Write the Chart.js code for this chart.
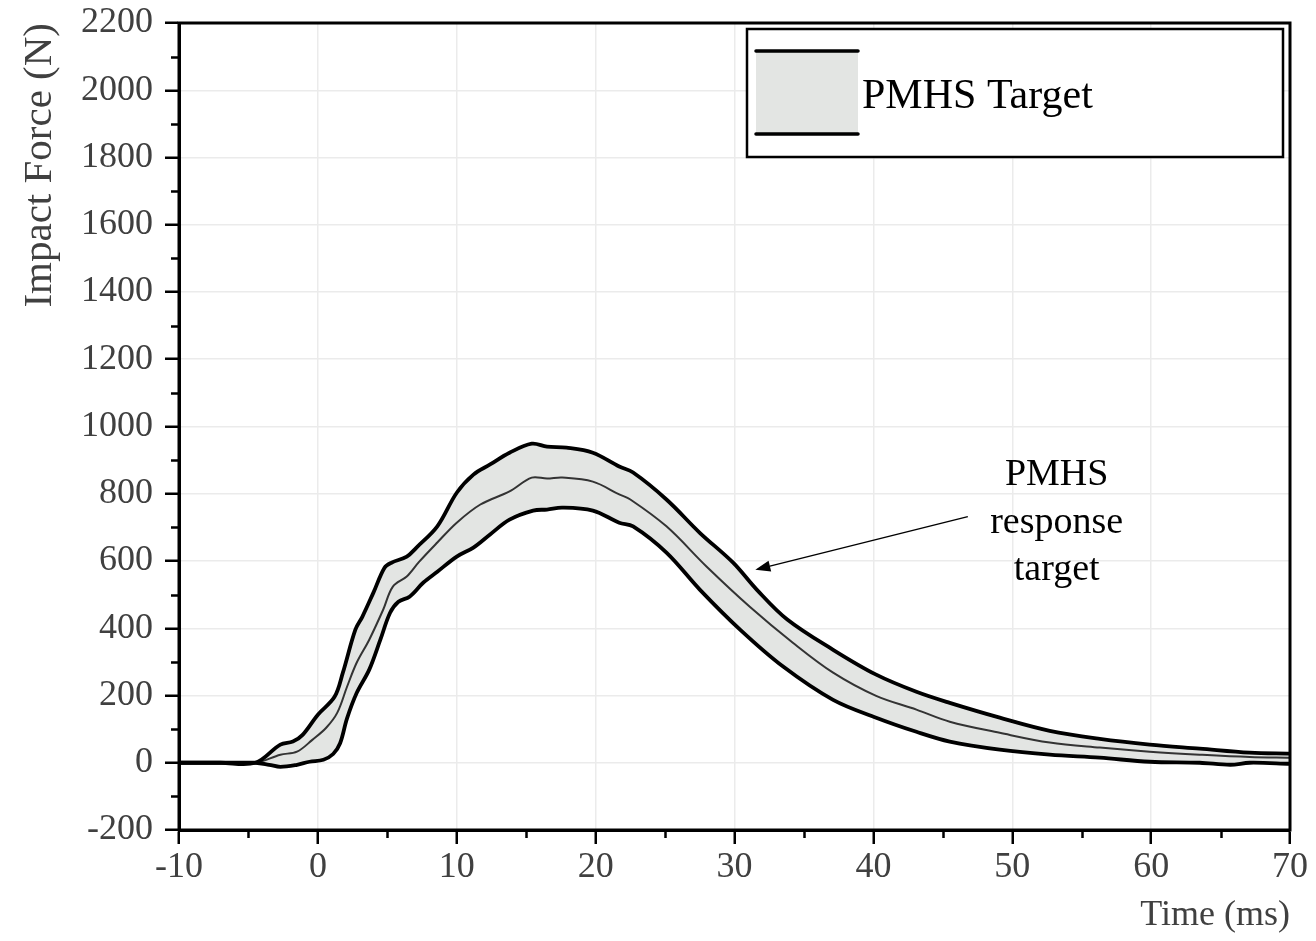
<!DOCTYPE html>
<html>
<head>
<meta charset="utf-8">
<script src="https://cdn.jsdelivr.net/npm/chart.js@4/dist/chart.umd.min.js"></script>
<style>
  html, body { margin: 0; padding: 0; background: #fff; }
  #wrap { width: 1316px; height: 941px; position: relative; }
</style>
</head>
<body>
<div id="wrap"><canvas id="c"></canvas></div>
<script>
// ---- data (time in ms, force in N) ----
const upperT = [-10, -7, -4.5, -2.7, -1.8, -1.1, 0, 1.2, 1.8, 2.7, 3.2, 4.0, 4.8, 5.3, 6.4, 7.1, 8.6, 10.0, 11.2, 12.4, 13.8, 15.4, 16.5, 17.9, 19.8, 21.7, 22.7, 25.1, 27.5, 29.9, 31.6, 33.8, 37.1, 40.2, 43.1, 45.5, 49.1, 52.7, 56.3, 59.9, 63.5, 67.1, 70];
const upperF = [0, 0, 0, 54, 63, 83, 143, 196, 268, 396, 434, 506, 580, 595, 613, 640, 703, 803, 857, 887, 922, 949, 940, 937, 922, 881, 863, 783, 684, 595, 515, 426, 336, 262, 211, 178, 134, 95, 71, 54, 42, 30, 27];

const middleT = [-10, -7, -4.5, -2.7, -1.5, -0.4, 0.6, 1.4, 2.1, 2.8, 3.7, 4.7, 5.4, 6.4, 7.3, 8.6, 10.0, 11.7, 13.8, 15.4, 16.5, 17.6, 19.8, 21.7, 22.5, 25.1, 28.0, 31.1, 34.2, 37.1, 40.2, 43.1, 45.5, 49.1, 52.7, 56.3, 59.9, 63.5, 67.1, 70];
const middleF = [0, 0, 0, 24, 33, 68, 104, 149, 226, 298, 366, 455, 524, 554, 598, 655, 714, 768, 807, 848, 845, 848, 836, 798, 783, 703, 583, 464, 357, 268, 199, 158, 122, 89, 60, 45, 33, 24, 17, 15];

const lowerT = [-10, -7, -4.5, -3.5, -2.7, -1.5, -0.6, 0.4, 1.1, 1.6, 2.1, 2.8, 3.7, 4.5, 5.2, 5.8, 6.6, 7.6, 8.6, 10.0, 11.2, 12.4, 13.8, 15.5, 16.5, 17.6, 19.8, 21.7, 22.7, 25.1, 27.5, 30.4, 33.5, 37.1, 40.2, 43.1, 45.5, 49.1, 52.7, 56.3, 59.9, 63.5, 65.7, 67.1, 70];
const lowerF = [0, 0, 0, -6, -12, -6, 3, 9, 26, 58, 132, 208, 277, 366, 446, 479, 494, 536, 568, 613, 640, 679, 723, 750, 753, 759, 750, 714, 703, 625, 515, 396, 286, 187, 134, 92, 63, 39, 24, 15, 3, 0, -6, 0, -3];

const xTicks = [-10, 0, 10, 20, 30, 40, 50, 60, 70];
const yTicks = [-200, 0, 200, 400, 600, 800, 1000, 1200, 1400, 1600, 1800, 2000, 2200];
const xMinor = [-5, 5, 15, 25, 35, 45, 55, 65];
const yMinor = [-100, 100, 300, 500, 700, 900, 1100, 1300, 1500, 1700, 1900, 2100];

const legendLabel = 'PMHS Target';
const annotationLines = ['PMHS', 'response', 'target'];
const annotationTextPos = { t: 53.2, f: [855, 712, 572] };
const arrowFrom = { t: 46.8, f: 732 };
const arrowTo = { t: 31.5, f: 574 };

// ---- helpers ----
const zip = (xs, ys) => xs.map((x, i) => ({ x: x, y: ys[i] }));
const SERIF = '"Liberation Serif", "Times New Roman", serif';
const BAND = '#e3e5e3';
const TICK_COLOR = '#404040';

const decor = {
  id: 'decor',
  afterDraw(chart) {
    const { ctx, chartArea: a, scales: { x, y } } = chart;
    ctx.save();
    // frame (top & right)
    ctx.strokeStyle = '#000';
    ctx.lineWidth = 3;
    ctx.strokeRect(a.left, a.top, a.right - a.left, a.bottom - a.top);
    // minor ticks
    ctx.lineWidth = 2.5;
    ctx.beginPath();
    yMinor.forEach(v => {
      const py = Math.round(y.getPixelForValue(v)) + 0.5;
      ctx.moveTo(a.left - 8, py); ctx.lineTo(a.left, py);
    });
    xMinor.forEach(v => {
      const px = Math.round(x.getPixelForValue(v)) + 0.5;
      ctx.moveTo(px, a.bottom); ctx.lineTo(px, a.bottom + 8);
    });
    ctx.stroke();

    // legend box
    const lx = a.left + 568, ly = a.top + 6, lw = 536, lh = 128;
    ctx.fillStyle = '#fff';
    ctx.fillRect(lx, ly, lw, lh);
    ctx.lineWidth = 2.5;
    ctx.strokeStyle = '#000';
    ctx.strokeRect(lx, ly, lw, lh);
    const sx1 = lx + 9, sx2 = lx + 111, sy1 = ly + 22, sy2 = ly + 105;
    ctx.fillStyle = BAND;
    ctx.fillRect(sx1, sy1, sx2 - sx1, sy2 - sy1);
    ctx.lineWidth = 3.5;
    ctx.lineCap = 'round';
    ctx.beginPath();
    ctx.moveTo(sx1, sy1); ctx.lineTo(sx2, sy1);
    ctx.moveTo(sx1, sy2); ctx.lineTo(sx2, sy2);
    ctx.stroke();
    ctx.fillStyle = '#000';
    ctx.font = '42px ' + SERIF;
    ctx.textAlign = 'left';
    ctx.textBaseline = 'middle';
    ctx.fillText(legendLabel, sx2 + 4, (sy1 + sy2) / 2 + 4);

    // annotation text
    ctx.font = '38px ' + SERIF;
    ctx.textAlign = 'center';
    const tx = x.getPixelForValue(annotationTextPos.t);
    annotationLines.forEach((s, i) => {
      ctx.fillText(s, tx, y.getPixelForValue(annotationTextPos.f[i]));
    });

    // arrow
    const x0 = x.getPixelForValue(arrowFrom.t), y0 = y.getPixelForValue(arrowFrom.f);
    const x1 = x.getPixelForValue(arrowTo.t), y1 = y.getPixelForValue(arrowTo.f);
    const ang = Math.atan2(y1 - y0, x1 - x0);
    const hl = 15, hw = 5.5;
    ctx.lineWidth = 1.5;
    ctx.lineCap = 'butt';
    ctx.beginPath();
    ctx.moveTo(x0, y0);
    ctx.lineTo(x1 - hl * Math.cos(ang), y1 - hl * Math.sin(ang));
    ctx.stroke();
    ctx.beginPath();
    ctx.moveTo(x1, y1);
    ctx.lineTo(x1 - hl * Math.cos(ang) + hw * Math.sin(ang), y1 - hl * Math.sin(ang) - hw * Math.cos(ang));
    ctx.lineTo(x1 - hl * Math.cos(ang) - hw * Math.sin(ang), y1 - hl * Math.sin(ang) + hw * Math.cos(ang));
    ctx.closePath();
    ctx.fill();
    ctx.restore();
  }
};

new Chart(document.getElementById('c'), {
  type: 'line',
  data: {
    datasets: [
      {
        label: 'PMHS upper',
        data: zip(upperT, upperF),
        borderColor: '#000', borderWidth: 3.8,
        backgroundColor: BAND,
        fill: 1,
        pointRadius: 0, tension: 0.35
      },
      {
        label: 'PMHS lower',
        data: zip(lowerT, lowerF),
        borderColor: '#000', borderWidth: 3.8,
        fill: false,
        pointRadius: 0, tension: 0.35
      },
      {
        label: 'PMHS mean',
        data: zip(middleT, middleF),
        borderColor: '#333', borderWidth: 2,
        fill: false,
        pointRadius: 0, tension: 0.35
      }
    ]
  },
  options: {
    responsive: true,
    maintainAspectRatio: false,
    animation: false,
    layout: { padding: { top: 23, right: 26, left: 0, bottom: 0 } },
    plugins: {
      legend: { display: false },
      tooltip: { enabled: false },
      filler: { drawTime: 'beforeDatasetsDraw' }
    },
    scales: {
      x: {
        type: 'linear', min: -10, max: 70,
        afterBuildTicks: s => { s.ticks = xTicks.map(v => ({ value: v })); },
        afterFit: s => { s.height = 111; s.paddingLeft = 0; s.paddingRight = 0; },
        ticks: { font: { family: SERIF, size: 36 }, color: TICK_COLOR, padding: 2, maxRotation: 0, callback: v => String(v) },
        grid: { color: '#ebebeb', lineWidth: 1.5, tickColor: '#000', tickLength: 14, tickWidth: 2.5 },
        border: { color: '#000', width: 3 },
        title: { display: true, text: 'Time (ms)', align: 'end', color: TICK_COLOR, font: { family: SERIF, size: 36 }, padding: { top: 0, bottom: 4 } }
      },
      y: {
        type: 'linear', min: -200, max: 2200,
        afterBuildTicks: s => { s.ticks = yTicks.map(v => ({ value: v })); },
        afterFit: s => { s.width = 179; s.paddingTop = 0; s.paddingBottom = 0; },
        ticks: { font: { family: SERIF, size: 36 }, color: TICK_COLOR, padding: 12, callback: v => String(v) },
        grid: { color: '#ebebeb', lineWidth: 1.5, tickColor: '#000', tickLength: 14, tickWidth: 2.5 },
        border: { color: '#000', width: 3 },
        title: { display: true, text: 'Impact Force (N)', align: 'end', color: TICK_COLOR, font: { family: SERIF, size: 41 }, padding: { top: 16, bottom: 0 } }
      }
    }
  },
  plugins: [decor]
});
</script>
</body>
</html>
